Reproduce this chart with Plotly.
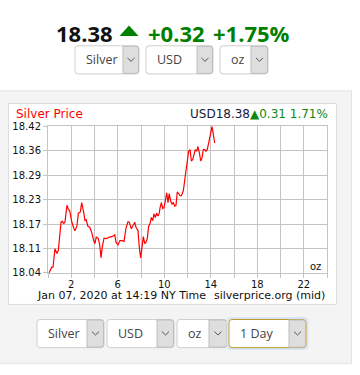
import plotly.graph_objects as go

W, H = 360, 375

# ---- data ----
hours = [0.09, 0.32, 0.43, 0.60, 0.77, 0.89, 1.12, 1.23, 1.35, 1.46, 1.63, 1.75, 1.87, 2.04, 2.21, 2.32,
         2.49, 2.61, 2.78, 2.90, 3.07, 3.18, 3.29, 3.42, 3.59, 3.76, 3.93, 4.04, 4.15, 4.33, 4.45, 4.56,
         4.67, 4.82, 5.05, 5.27, 5.51, 5.74, 5.85, 6.02, 6.19, 6.37, 6.54, 6.71, 6.88, 6.99, 7.17, 7.34,
         7.46, 7.57, 7.74, 7.85, 7.97, 8.09, 8.20, 8.32, 8.43, 8.54, 8.66, 8.77, 8.89, 9.01, 9.12, 9.23,
         9.35, 9.46, 9.57, 9.63, 9.75, 9.87, 9.98, 10.09, 10.21, 10.32, 10.43, 10.55, 10.67, 10.78, 10.90,
         11.01, 11.12, 11.24, 11.35, 11.47, 11.64, 11.81, 11.93, 12.10, 12.22, 12.33, 12.45, 12.56, 12.67,
         12.79, 12.90, 13.02, 13.14, 13.25, 13.36, 13.48, 13.59, 13.70, 13.82, 13.94, 14.05, 14.11, 14.22, 14.34]
prices = [18.0435, 18.058, 18.058, 18.105, 18.093, 18.101, 18.173, 18.175, 18.170, 18.173, 18.216, 18.206,
          18.202, 18.174, 18.158, 18.151, 18.164, 18.196, 18.199, 18.223, 18.198, 18.177, 18.179, 18.163,
          18.160, 18.147, 18.126, 18.118, 18.135, 18.131, 18.114, 18.082, 18.110, 18.132, 18.131, 18.135,
          18.136, 18.141, 18.122, 18.115, 18.126, 18.126, 18.124, 18.158, 18.174, 18.173, 18.156, 18.166,
          18.173, 18.160, 18.151, 18.110, 18.082, 18.110, 18.136, 18.118, 18.122, 18.131, 18.163, 18.168,
          18.185, 18.177, 18.194, 18.185, 18.196, 18.189, 18.196, 18.208, 18.223, 18.208, 18.210, 18.227,
          18.248, 18.223, 18.246, 18.227, 18.219, 18.223, 18.214, 18.216, 18.250, 18.246, 18.241, 18.240,
          18.253, 18.291, 18.320, 18.354, 18.358, 18.329, 18.333, 18.345, 18.358, 18.354, 18.366, 18.350,
          18.329, 18.337, 18.358, 18.358, 18.354, 18.358, 18.379, 18.396, 18.408, 18.4175, 18.400, 18.375]

y_min, y_max = 18.0435, 18.4175
y_tick_labels = ["18.04", "18.11", "18.17", "18.23", "18.29", "18.36", "18.42"]
x_tick_vals = list(range(0, 25, 2))
x_tick_labels = ["", "2", "", "6", "", "10", "", "14", "", "18", "", "22", ""]

header_price = "18.38"
header_change = "+0.32"
header_pct = "+1.75%"
chart_title = "Silver Price"
chart_quote = "USD18.38"
chart_change = "▲0.31 1.71%"
caption_left = "Jan 07, 2020 at 14:19 NY Time"
caption_right = "silverprice.org (mid)"
unit_label = "oz"
row1_selects = [("Silver", 75, 123, 139), ("USD", 146, 197, 213), ("oz", 220, 251, 268)]
row2_selects = [("Silver", 37, 87, 104), ("USD", 107, 157, 174), ("oz", 177, 209, 227), ("1 Day", 229, 289, 306)]

# ---- helpers (pixel -> paper) ----
def X(x):
    return x / W

def Y(y):
    return 1 - y / H

def rrect(x0, y0, x1, y1, r=3):
    return (f"M {X(x0+r)} {Y(y0)} L {X(x1-r)} {Y(y0)} Q {X(x1)} {Y(y0)} {X(x1)} {Y(y0+r)} "
            f"L {X(x1)} {Y(y1-r)} Q {X(x1)} {Y(y1)} {X(x1-r)} {Y(y1)} L {X(x0+r)} {Y(y1)} "
            f"Q {X(x0)} {Y(y1)} {X(x0)} {Y(y1-r)} L {X(x0)} {Y(y0+r)} Q {X(x0)} {Y(y0)} {X(x0+r)} {Y(y0)} Z")

def rrect_right(x0, y0, x1, y1, r=3):
    return (f"M {X(x0)} {Y(y0)} L {X(x1-r)} {Y(y0)} Q {X(x1)} {Y(y0)} {X(x1)} {Y(y0+r)} "
            f"L {X(x1)} {Y(y1-r)} Q {X(x1)} {Y(y1)} {X(x1-r)} {Y(y1)} L {X(x0)} {Y(y1)} Z")

shapes = []
annotations = []

def P(**kw):
    d = dict(xref="paper", yref="paper", layer="below")
    d.update(kw)
    shapes.append(d)

def T(text, x, y, size, color, xanchor="left", family="DejaVu Sans", bold=False, yanchor="middle"):
    annotations.append(dict(text=f"<b>{text}</b>" if bold else text, x=X(x), y=Y(y), xref="paper", yref="paper",
                            xanchor=xanchor, yanchor=yanchor, showarrow=False, borderpad=0,
                            font=dict(size=size, color=color, family=family)))

# gray panel and white chart box
P(type="rect", x0=X(-2), x1=X(351.5), y0=Y(88.5), y1=Y(369.5), fillcolor="#f4f4f4", line=dict(color="#e2e2e2", width=1))
P(type="rect", x0=X(8.5), x1=X(336.5), y0=Y(101.5), y1=Y(308.5), fillcolor="#ffffff", line=dict(color="#dcdcdc", width=1))

def select(label, x0, xa, x1, y0, y1, highlight=False):
    if highlight:
        P(type="path", path=rrect(x0 - 1.5, y0 - 1.5, x1 + 1.5, y1 + 1.5, 4), fillcolor="rgba(0,0,0,0)",
          line=dict(color="#d6e6f5", width=2))
    P(type="path", path=rrect(x0, y0, x1, y1, 3), fillcolor="#ffffff",
      line=dict(color="#c49a2c" if highlight else "#cfcfcf", width=1))
    P(type="path", path=rrect_right(xa, y0 + 0.5, x1 - 0.5, y1 - 0.5, 2.5), fillcolor="#dedede",
      line=dict(color="#bdbdbd", width=1))
    cx, cy = (xa + x1) / 2, (y0 + y1) / 2
    P(type="path", path=f"M {X(cx-3.5)} {Y(cy-2)} L {X(cx)} {Y(cy+1.5)} L {X(cx+3.5)} {Y(cy-2)}",
      line=dict(color="#555555", width=1), layer="above")
    T(label, x0 + 10, cy, 12.5, "#444444", family="Open Sans")

for lab, a, b, c in row1_selects:
    select(lab, a, b, c, 42, 71)
for lab, a, b, c in row2_selects:
    select(lab, a, b, c, 324, 353, highlight=(lab == "1 Day"))

# header
T(header_price, 55, 29, 22, "#111111", family="Open Sans", bold=True)
P(type="path", path=f"M {X(119.5)} {Y(32)} L {X(138.5)} {Y(32)} L {X(129)} {Y(21)} Z",
  fillcolor="#008000", line=dict(width=0), layer="above")
T(header_change, 147, 29, 22, "#008000", family="Open Sans", bold=True)
T(header_pct, 212, 29, 22, "#008000", family="Open Sans", bold=True)

# chart texts
T(chart_title, 15, 112, 12, "#ff0000")
T(f"<span style='color:#1a1a3a'>{chart_quote}</span>{chart_change}", 329, 112.5, 12, "#118811", xanchor="right")
T(caption_left, 36, 292, 11, "#111111", yanchor="top")
T(caption_right, 326, 292, 11, "#111111", xanchor="right", yanchor="top")
T(unit_label, 322, 269.5, 10, "#111111", xanchor="right")

fig = go.Figure()
fig.add_trace(go.Scatter(x=hours, y=prices, mode="lines", line=dict(color="#ff0000", width=1.2),
                         hoverinfo="skip", showlegend=False))

grid = "#c4c4c4"
fig.update_layout(
    width=W, height=H, margin=dict(l=0, r=0, t=0, b=0),
    paper_bgcolor="#ffffff", plot_bgcolor="#ffffff",
    shapes=shapes, annotations=annotations, showlegend=False,
    xaxis=dict(domain=[X(48), X(327)], range=[0, 24], tickmode="array", tickvals=x_tick_vals,
               ticktext=x_tick_labels, showgrid=True, gridcolor=grid, gridwidth=1,
               showline=True, linecolor=grid, mirror=True, ticks="outside", ticklen=4, tickcolor=grid,
               ticklabelstandoff=-2,
               tickfont=dict(family="DejaVu Sans", size=10, color="#111111"), zeroline=False, fixedrange=True),
    yaxis=dict(domain=[Y(276), Y(125)], range=[y_min, y_max], tickmode="array",
               tickvals=[y_min + i * (y_max - y_min) / 6 for i in range(7)], ticktext=y_tick_labels,
               showgrid=True, gridcolor=grid, gridwidth=1, showline=True, linecolor=grid, mirror=True,
               ticks="outside", ticklen=4, tickcolor=grid,
               tickfont=dict(family="DejaVu Sans", size=10, color="#111111"), zeroline=False, fixedrange=True),
)

fig.write_html("out.html", config={"displayModeBar": False})
